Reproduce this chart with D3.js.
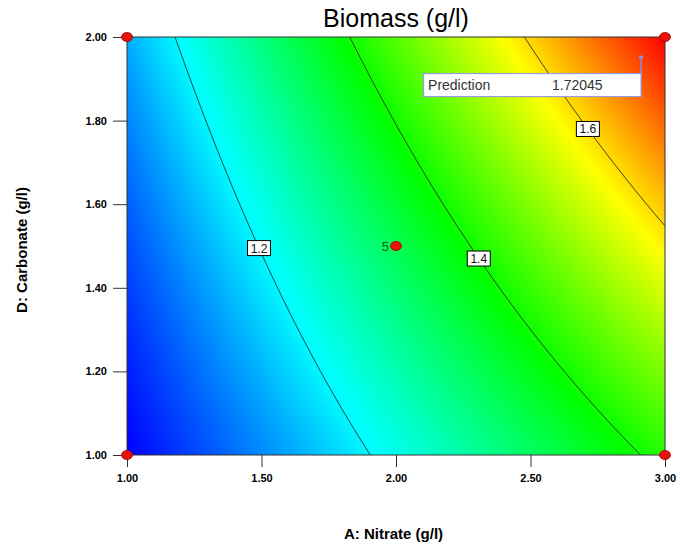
<!DOCTYPE html>
<html><head><meta charset="utf-8">
<script src="https://cdn.jsdelivr.net/npm/d3@7"></script>
<style>
body{margin:0;background:#fff}
svg{display:block}
text{font-family:"Liberation Sans",Arial,sans-serif}
</style>
</head><body>
<svg id="chart" width="680" height="551"></svg>
<script>
// Factor ranges in actual units
const nitrateRange = [1.0, 3.0];
const carbonateRange = [1.0, 2.0];
const xTicks = [1.0, 1.5, 2.0, 2.5, 3.0];
const yTicks = [1.0, 1.2, 1.4, 1.6, 1.8, 2.0];

// Fitted quadratic response surface in coded factors (A, D from -1 to +1)
const modelTerms = ["Intercept", "A", "D", "AD", "A^2", "D^2"];
const modelCoefs = [1.330, 0.2535, 0.117, 0.0545, 0.0, 0.006];

// Contour levels and where along Carbonate their labels sit
const contourLevels = [1.2, 1.4, 1.6];
const contourLabelD = [1.495, 1.47, 1.78];

// Design points (factorial corners and replicated centre point)
const designA = [1, 1, 3, 3, 2];
const designD = [1, 2, 1, 2, 1.5];
const designReps = [1, 1, 1, 1, 5];

// Flagged prediction
const predictionA = 2.911, predictionD = 1.952;
const predictionText = "1.72045";

const rampColors = ["#0000ff", "#00ffff", "#00ff00", "#ffff00", "#ff0000"];

const svg = d3.select("#chart");
const L = 127, R = 665, T = 37, B = 455;

const x = d3.scaleLinear().domain(nitrateRange).range([L, R]);
const y = d3.scaleLinear().domain(carbonateRange).range([B, T]);
const codeA = d3.scaleLinear().domain(nitrateRange).range([-1, 1]);
const codeD = d3.scaleLinear().domain(carbonateRange).range([-1, 1]);

function predict(A, D) {
  const a = codeA(A), d = codeD(D);
  const t = [1, a, d, a * d, a * a, d * d];
  return d3.sum(t, (v, i) => v * modelCoefs[i]);
}

// ---- colour-filled surface ----
const W = R - L, H = B - T;
const canvas = document.createElement("canvas");
canvas.width = W; canvas.height = H;
const ctx = canvas.getContext("2d");
const vals = new Float64Array(W * H);
for (let j = 0; j < H; j++) {
  const D = y.invert(T + j + 0.5);
  for (let i = 0; i < W; i++) {
    vals[j * W + i] = predict(x.invert(L + i + 0.5), D);
  }
}
const [lo, hi] = d3.extent(vals);
const color = d3.scaleLinear()
  .domain(d3.range(5).map(k => lo + (hi - lo) * k / 4))
  .range(rampColors).clamp(true);
const img = ctx.createImageData(W, H);
for (let k = 0; k < W * H; k++) {
  const c = d3.rgb(color(vals[k]));
  img.data[4 * k] = c.r; img.data[4 * k + 1] = c.g; img.data[4 * k + 2] = c.b; img.data[4 * k + 3] = 255;
}
ctx.putImageData(img, 0, 0);
svg.append("image").attr("x", L).attr("y", T).attr("width", W).attr("height", H)
  .attr("preserveAspectRatio", "none").attr("href", canvas.toDataURL());

// ---- contour lines ----
function solveA(level, D) {
  let a0 = nitrateRange[0], a1 = nitrateRange[1];
  const f0 = predict(a0, D) - level, f1 = predict(a1, D) - level;
  if (f0 * f1 > 0) return null;
  for (let it = 0; it < 50; it++) {
    const m = (a0 + a1) / 2, fm = predict(m, D) - level;
    if ((fm > 0) === (f1 > 0)) a1 = m; else a0 = m;
  }
  return (a0 + a1) / 2;
}
const line = d3.line().x(p => x(p[0])).y(p => y(p[1])).defined(p => p[0] !== null);
const steps = 600;
const gContours = svg.append("g");
contourLevels.forEach((lev, idx) => {
  const pts = d3.range(steps + 1).map(s => {
    const D = carbonateRange[0] + (carbonateRange[1] - carbonateRange[0]) * s / steps;
    return [solveA(lev, D), D];
  });
  gContours.append("path").attr("d", line(pts))
    .attr("fill", "none").attr("stroke", "#1a1a1a").attr("stroke-width", 0.9);
});

// ---- frame and axes ----
svg.append("rect").attr("x", L).attr("y", T).attr("width", W).attr("height", H)
  .attr("fill", "none").attr("stroke", "#333").attr("stroke-width", 1);

const fmt = d3.format(".2f");
const gx = svg.append("g").attr("transform", `translate(0,${B})`)
  .call(d3.axisBottom(x).tickValues(xTicks).tickFormat(fmt).tickSize(12).tickPadding(7));
const gy = svg.append("g").attr("transform", `translate(${L},0)`)
  .call(d3.axisLeft(y).tickValues(yTicks).tickFormat(fmt).tickSize(14).tickPadding(6));
[gx, gy].forEach(g => {
  g.select(".domain").remove();
  g.selectAll(".tick line").attr("stroke", "#333");
  g.selectAll(".tick text").attr("fill", "#000").attr("font-size", 11).attr("font-weight", "bold")
    .attr("font-family", "'Liberation Sans',Arial,sans-serif");
});

// ---- contour labels ----
const gLabels = svg.append("g");
contourLevels.forEach((lev, idx) => {
  const D = contourLabelD[idx], A = solveA(lev, D);
  const cx = x(A), cy = y(D);
  gLabels.append("rect").attr("x", cx - 11.5).attr("y", cy - 7.5).attr("width", 23).attr("height", 15)
    .attr("fill", "#fff").attr("stroke", "#000").attr("stroke-width", 1);
  gLabels.append("text").attr("x", cx).attr("y", cy + 4.5).attr("text-anchor", "middle")
    .attr("font-size", 12).attr("fill", "#111").text(d3.format(".1f")(lev));
});

// ---- design points ----
const gPts = svg.append("g");
designA.forEach((A, i) => {
  gPts.append("ellipse").attr("cx", x(A)).attr("cy", y(designD[i])).attr("rx", 5.5).attr("ry", 4.5)
    .attr("fill", "#e8140c").attr("stroke", "#a00000").attr("stroke-width", 0.8);
  if (designReps[i] > 1) {
    gPts.append("text").attr("x", x(A) - 7).attr("y", y(designD[i]) + 4.5).attr("text-anchor", "end")
      .attr("font-size", 13).attr("fill", "#1f5a1f").text(designReps[i]);
  }
});

// ---- prediction flag ----
const px = x(predictionA), py = y(predictionD);
const gPred = svg.append("g");
gPred.append("line").attr("x1", px).attr("x2", px).attr("y1", py).attr("y2", py + 17)
  .attr("stroke", "#8c8ce0").attr("stroke-width", 1.5);
gPred.append("rect").attr("x", px - 2).attr("y", py - 1.5).attr("width", 4).attr("height", 3).attr("fill", "#8c8ce0");
gPred.append("rect").attr("x", px - 217.5).attr("y", py + 16.5).attr("width", 217.5).attr("height", 23)
  .attr("fill", "#fff").attr("stroke", "#9a9ae0").attr("stroke-width", 1.2);
gPred.append("text").attr("x", px - 213).attr("y", py + 33).attr("font-size", 14).attr("fill", "#333").text("Prediction");
gPred.append("text").attr("x", px - 89).attr("y", py + 33).attr("font-size", 14).attr("fill", "#333").text(predictionText);

// ---- titles ----
svg.append("text").attr("x", (L + R) / 2).attr("y", 27).attr("text-anchor", "middle")
  .attr("font-size", 25).attr("fill", "#000").text("Biomass (g/l)");
svg.append("text").attr("x", 393.5).attr("y", 539).attr("text-anchor", "middle")
  .attr("font-size", 15).attr("font-weight", "bold").attr("fill", "#000").text("A: Nitrate (g/l)");
svg.append("text").attr("transform", "translate(27,250) rotate(-90)").attr("text-anchor", "middle")
  .attr("font-size", 15).attr("font-weight", "bold").attr("fill", "#000").text("D: Carbonate (g/l)");
</script>
</body></html>
